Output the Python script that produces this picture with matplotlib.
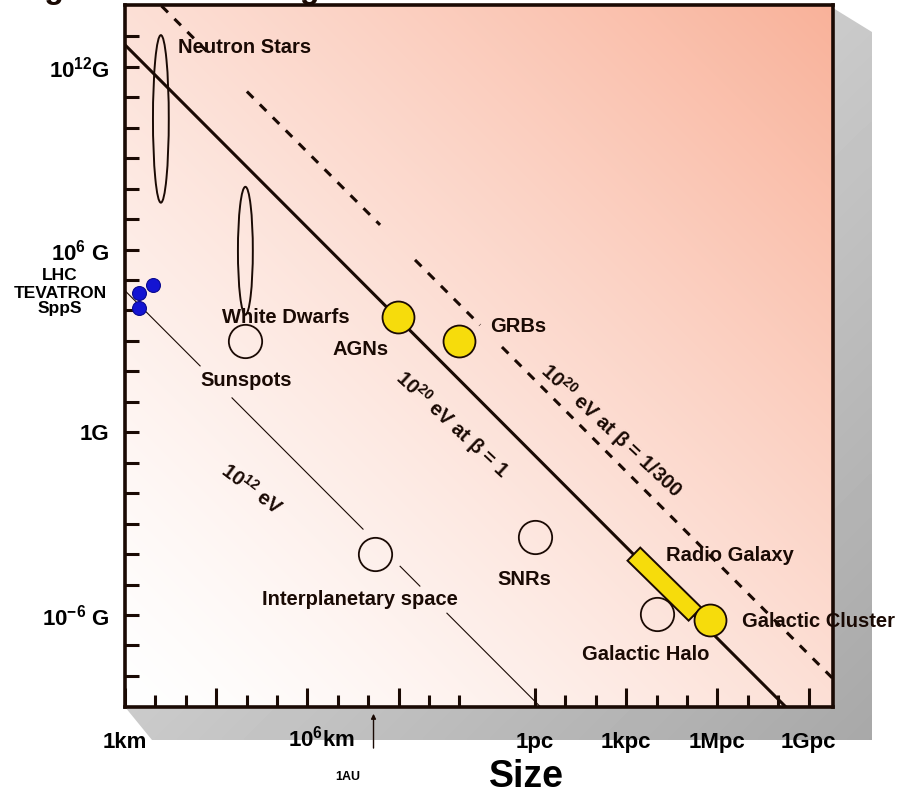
import numpy as np
import matplotlib
matplotlib.use("Agg")
import matplotlib.pyplot as plt
from matplotlib.patches import Ellipse, Polygon

plt.rcParams['font.family'] = ['Liberation Sans', 'DejaVu Sans']
plt.rcParams['font.weight'] = 'bold'
plt.rcParams['mathtext.fontset'] = 'custom'
plt.rcParams['mathtext.rm'] = 'Liberation Sans:bold'
plt.rcParams['mathtext.it'] = 'Liberation Sans:italic:bold'
plt.rcParams['mathtext.bf'] = 'Liberation Sans:bold'
plt.rcParams['mathtext.default'] = 'rm'

INK = '#1a0a04'

# Hillas plot, everything in log10 : size in km, field in Gauss
PC_KM = np.log10(3.086e13)      # 1 pc in km
AU_KM = np.log10(1.496e8)       # 1 AU in km

# Hillas lines : log B + log R = const
solid_const = 12.72     # 1e20 eV, beta = 1
dashed_const = 15.20    # 1e20 eV, beta = 1/300
thin_const = 4.65       # 1e12 eV
# the lines are broken around the labels (ranges in log km)
solid_pieces = [(0.0, 23.3)]
dashed_pieces = [(1.2, 2.86), (4.01, 8.39), (9.54, 11.68), (12.40, 23.3)]
thin_pieces = [(0.0, 2.47), (3.52, 7.83), (9.05, 9.70), (10.59, 13.8)]

# open circles
open_names = ['Sunspots', 'Interplanetary space', 'SNRs', 'Galactic Halo']
open_size = [3.95, 8.22, 13.49, 17.50]
open_field = [3.01, -4.00, -3.45, -5.97]

# yellow circles
yel_names = ['AGNs', 'GRBs', 'Galactic Cluster']
yel_size = [8.98, 10.99, 19.26]
yel_field = [3.77, 3.00, -6.17]

# accelerators
acc_names = ['LHC', 'TEVATRON', 'SppS']
acc_size = [0.92, 0.46, 0.46]
acc_field = [4.82, 4.56, 4.07]

# elongated objects : centre and extent in decades
ell_names = ['Neutron Stars', 'White Dwarfs']
ell_size = [1.18, 3.96]
ell_field = [10.29, 5.96]
ell_dsize = [0.52, 0.49]
ell_dfield = [5.5, 4.2]

# radio galaxy band (two ends) and half width
rg_size = [16.74, 18.75]
rg_field = [-4.00, -5.97]
rg_half = 0.30

# ticks
km_ticks = list(range(0, 12))
pc_ticks = [PC_KM + k for k in range(0, 10)]
x_major = [0, 3, 6, 9, PC_KM, PC_KM + 3, PC_KM + 6, PC_KM + 9]
x_labels = ['1km', '', '', '', '1pc', '1kpc', '1Mpc', '1Gpc']
y_major = [12, 6, 0, -6]
y_labels = ['$10^{12}$G', '$10^{6}$ G', '1G', '$10^{-6}$ G']
y_minor = list(range(-8, 14))

XMIN, XMAX = 0.0, 23.29
YMIN, YMAX = -9.02, 14.03

fig = plt.figure(figsize=(9.03, 8), dpi=100)

# shadow behind the frame (pixel coords)
bg = fig.add_axes([0, 0, 1, 1], zorder=0)
bg.set_xlim(0, 903)
bg.set_ylim(800, 0)
bg.axis('off')
gx, gy = np.meshgrid(np.linspace(0, 1, 200), np.linspace(0, 1, 200))
grey = 0.92 - 0.13 * gx - 0.13 * gy
shadow = bg.imshow(grey, cmap='gray', vmin=0, vmax=1, extent=(125, 872, 740, 5),
                   aspect='auto', interpolation='bilinear')
clip = Polygon([(125, 707), (152, 740), (872, 740), (872, 32), (833, 8)],
               closed=True, transform=bg.transData, facecolor='none', edgecolor='none')
bg.add_patch(clip)
shadow.set_clip_path(clip)

# title, cut by the top edge as in the original picture
fig.text(0.0, 1 + 2 / 800, 'Magnetic field strength', fontsize=23,
         fontweight='bold', color=INK, va='baseline', ha='left')

ax = fig.add_axes([125 / 903, 1 - 707 / 800, 708 / 903, 702 / 800], zorder=1)
ax.set_xlim(XMIN, XMAX)
ax.set_ylim(YMIN, YMAX)

# salmon gradient background
u, v = np.meshgrid(np.linspace(0, 1, 300), np.linspace(0, 1, 300))
t = ((u + v) / 2) ** 1.3
c1 = np.array([249, 178, 154]) / 255.0
img = (1 - t[..., None]) * 1.0 + t[..., None] * c1
ax.imshow(img, extent=(XMIN, XMAX, YMIN, YMAX), origin='lower', aspect='auto',
          interpolation='bilinear', zorder=0)

# Hillas lines
for a, b in solid_pieces:
    xs = np.array([a, b])
    ax.plot(xs, solid_const - xs, color=INK, lw=2.2, zorder=2)
for a, b in dashed_pieces:
    xs = np.array([a, b])
    ax.plot(xs, dashed_const - xs, color=INK, lw=2.2, dashes=(3, 3), zorder=2)
for a, b in thin_pieces:
    xs = np.array([a, b])
    ax.plot(xs, thin_const - xs, color=INK, lw=0.8, zorder=2)

# elongated objects
for xc, yc, w, h in zip(ell_size, ell_field, ell_dsize, ell_dfield):
    ax.add_patch(Ellipse((xc, yc), w, h, facecolor='none', edgecolor=INK, lw=1.4, zorder=3))

# radio galaxy band
p1 = np.array([rg_size[0], rg_field[0]])
p2 = np.array([rg_size[1], rg_field[1]])
d = (p2 - p1) / np.linalg.norm(p2 - p1)
n = np.array([-d[1], d[0]]) * rg_half
ax.add_patch(Polygon([p1 + n, p2 + n, p2 - n, p1 - n], closed=True,
                     facecolor='#f6dc0c', edgecolor=INK, lw=1.4, zorder=3))

ax.plot(open_size, open_field, 'o', ms=24, mfc='none', mec=INK, mew=1.3, zorder=3)
ax.plot(yel_size, yel_field, 'o', ms=23, mfc='#f6dc0c', mec=INK, mew=1.3, zorder=4)
ax.plot(acc_size, acc_field, 'o', ms=10, mfc='#1414d2', mec='#0a0a90', mew=0.8,
        zorder=4, clip_on=False)

# labels
fs = 14.5
lab = dict(fontsize=fs, color=INK, ha='left', va='center', zorder=5)
ax.text(1.74, 12.65, 'Neutron Stars', **lab)
ax.text(3.19, 3.77, 'White Dwarfs', **lab)
ax.text(2.47, 1.70, 'Sunspots', **lab)
ax.text(6.84, 2.72, 'AGNs', **lab)
ax.text(12.01, 3.47, 'GRBs', **lab)
ax.text(4.51, -5.48, 'Interplanetary space', **lab)
ax.text(12.24, -4.82, 'SNRs', **lab)
ax.text(17.80, -4.04, 'Radio Galaxy', **lab)
ax.text(15.03, -7.31, 'Galactic Halo', **lab)
ax.text(20.30, -6.20, 'Galactic Cluster', **lab)

for name, yy in zip(acc_names, [5.15, 4.56, 4.06]):
    ax.text(-2.14, yy, name, fontsize=12.5, color='black', ha='center', va='center')

rot = dict(fontsize=fs, color=INK, ha='center', va='center', rotation_mode='anchor', zorder=5)
ax.text(10.76, 0.26, r'$10^{20}$ eV at β = 1', rotation=-43, **rot)
ax.text(15.99, 0.06, r'$10^{20}$ eV at β = 1/300', rotation=-43, **rot)
ax.text(4.18, -1.87, r'$10^{12}$ eV', rotation=-37, **rot)

# 1 AU marker
ax.annotate('', xy=(AU_KM, -9.15), xytext=(AU_KM, -10.46),
            arrowprops=dict(arrowstyle='-|>', lw=1.0, color=INK, mutation_scale=7),
            annotation_clip=False)
ax.text(7.34, -11.31, '1AU', fontsize=9, color='black', ha='center', va='center')
ax.text(13.19, -11.31, 'Size', fontsize=27, color='black', ha='center', va='center')
ax.text(6.45, -10.07, '$10^{6}$km', fontsize=16, color='black', ha='center', va='center')

# axes and ticks
ax.set_xticks(x_major)
ax.set_xticklabels(x_labels)
ax.set_xticks([k for k in km_ticks + pc_ticks if not any(abs(k - m) < 1e-6 for m in x_major)],
              minor=True)
ax.set_yticks(y_major)
ax.set_yticklabels(y_labels)
ax.set_yticks([k for k in y_minor if k not in y_major], minor=True)

ax.tick_params(axis='x', which='major', direction='in', length=14, width=2.2,
               color=INK, pad=18, labelsize=16)
ax.tick_params(axis='x', which='minor', direction='in', length=9, width=2.2, color=INK)
ax.tick_params(axis='y', which='both', direction='in', length=10, width=2.2,
               color=INK, pad=11, labelsize=16)
for s in ax.spines.values():
    s.set_linewidth(2.6)
    s.set_color(INK)
    s.set_zorder(6)

fig.savefig('out.png', dpi=100)
